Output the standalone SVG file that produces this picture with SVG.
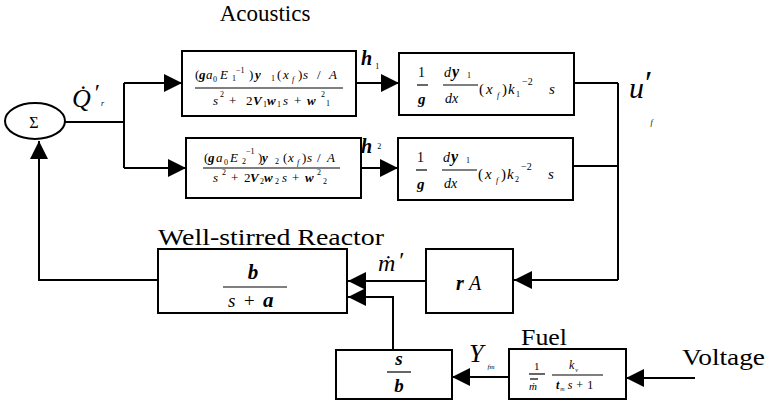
<svg xmlns="http://www.w3.org/2000/svg" width="765" height="406" viewBox="0 0 765 406" font-family="'Liberation Serif', 'DejaVu Serif', serif">
  <style>
    .ln { stroke: #000; stroke-width: 2; fill: none; }
    .box { fill: #fff; stroke: #000; stroke-width: 2; }
    .fl { stroke: #000; stroke-width: 1.2; }
    text { font-family: 'Liberation Serif', 'DejaVu Serif', serif; fill: #000; }
    .i { font-style: italic; }
    .bi { font-style: italic; font-weight: bold; }
    .lbl { font-size: 23px; }
    .m { font-size: 13px; }
    .s { font-size: 8px; }
  </style>
  <defs>
    <marker id="arrow" viewBox="0 0 18 18" refX="18" refY="9" markerWidth="18" markerHeight="18" markerUnits="userSpaceOnUse" orient="auto">
      <path d="M0,0 L18,9 L0,18 z" fill="#000"/>
    </marker>
  </defs>

  <rect width="765" height="406" fill="#fff"/>

  <!-- connectors -->
  <g id="connectors">
    <path class="ln" d="M65,122 H124"/>
    <path class="ln" d="M124,83 V168"/>
    <path class="ln" d="M124,83 H182" marker-end="url(#arrow)"/>
    <path class="ln" d="M124,168 H186" marker-end="url(#arrow)"/>
    <path class="ln" d="M356,83 H399" marker-end="url(#arrow)"/>
    <path class="ln" d="M361,168 H398" marker-end="url(#arrow)"/>
    <path class="ln" d="M574,83 H618 M573,166 H618 M618,83 V280"/>
    <path class="ln" d="M618,280 H514" marker-end="url(#arrow)"/>
    <path class="ln" d="M426,281 H348" marker-end="url(#arrow)"/>
    <path class="ln" d="M393,350 V297 H348" marker-end="url(#arrow)"/>
    <path class="ln" d="M158,280 H39 V141" marker-end="url(#arrow)"/>
    <path class="ln" d="M509,377 H452" marker-end="url(#arrow)"/>
    <path class="ln" d="M695,378 H626" marker-end="url(#arrow)"/>
  </g>

  <!-- signal labels -->
  <g id="signal-labels">
    <text class="i" x="72" y="107" font-size="26">Q̇<tspan font-style="normal" font-size="24" dx="4" dy="-7">′</tspan><tspan font-size="8" dx="1" dy="6">r</tspan></text>

    <text class="bi" x="361" y="65" font-size="20">h<tspan font-style="normal" font-weight="normal" font-size="8" dx="3" dy="4">1</tspan></text>
    <text class="bi" x="361" y="153" font-size="20">h<tspan font-style="normal" font-weight="normal" font-size="8" dx="5" dy="-4">2</tspan></text>

    <text class="i" x="629" y="98" font-size="30">u<tspan font-style="normal" font-size="34" dx="1" dy="-4">′</tspan><tspan font-size="8" dx="-2" dy="31">f</tspan></text>

    <text class="i" x="378" y="271" font-size="24">ṁ<tspan font-style="normal" dx="4" dy="-3">′</tspan></text>

    <text class="i" x="469" y="362" font-size="26">Y<tspan font-size="7" dx="4" dy="7">fm</tspan></text>
  </g>

  <!-- summing junction -->
  <g id="sum">
    <ellipse class="box" cx="35" cy="121" rx="30" ry="18"/>
    <text x="34" y="128" font-size="16" text-anchor="middle">Σ</text>
  </g>

  <!-- acoustic mode 1 -->
  <g id="acoustic-mode-1">
    <text class="lbl" x="265" y="21" text-anchor="middle">Acoustics</text>
    <rect class="box" x="182" y="51" width="174" height="65"/>
    <text class="m" x="195" y="79">(</text>
    <text class="m bi" x="199" y="79">g</text>
    <text class="m i" x="206" y="79">a</text>
    <text class="s" x="213" y="82">0</text>
    <text class="m i" x="220" y="79">E</text>
    <text class="s" x="232" y="81">1</text>
    <text class="s" x="236" y="73">−1</text>
    <text class="m" x="249" y="79">)</text>
    <text class="m bi" x="255" y="79">y</text>
    <text class="s" x="271" y="81">1</text>
    <text class="m" x="277" y="79">(</text>
    <text class="m i" x="283" y="79">x</text>
    <text class="i s" x="292" y="82">f</text>
    <text class="m" x="298" y="79">)</text>
    <text class="m i" x="303" y="79">s</text>
    <text class="m" x="317" y="79">/</text>
    <text class="m i" x="329" y="79">A</text>
    <line class="fl" x1="195" y1="88" x2="343" y2="88"/>
    <text class="m i" x="213" y="105">s</text>
    <text class="s" x="220" y="97">2</text>
    <text class="m" x="229" y="105">+</text>
    <text class="m" x="246" y="105">2</text>
    <text class="m bi" x="253" y="105">V</text>
    <text class="s" x="263" y="107">1</text>
    <text class="m bi" x="267" y="105">w</text>
    <text class="s" x="277" y="107">1</text>
    <text class="m i" x="283" y="105">s</text>
    <text class="m" x="294" y="105">+</text>
    <text class="m bi" x="307" y="105">w</text>
    <text class="s" x="321" y="97">2</text>
    <text class="s" x="326" y="106">1</text>
  </g>

  <!-- acoustic mode 2 -->
  <g id="acoustic-mode-2">
    <rect class="box" x="186" y="138" width="175" height="60"/>
    <text class="m" x="204" y="162">(</text>
    <text class="m bi" x="208" y="162">g</text>
    <text class="m i" x="216" y="162">a</text>
    <text class="s" x="224" y="165">0</text>
    <text class="m i" x="230" y="162">E</text>
    <text class="s" x="242" y="164">2</text>
    <text class="s" x="246" y="154">−1</text>
    <text class="m" x="258" y="162">)</text>
    <text class="m bi" x="262" y="162">y</text>
    <text class="s" x="275" y="164">2</text>
    <text class="m" x="283" y="162">(</text>
    <text class="m i" x="288" y="162">x</text>
    <text class="i s" x="297" y="165">f</text>
    <text class="m" x="302" y="162">)</text>
    <text class="m i" x="307" y="162">s</text>
    <text class="m" x="317" y="162">/</text>
    <text class="m i" x="327" y="162">A</text>
    <line class="fl" x1="203" y1="168" x2="340" y2="168"/>
    <text class="m i" x="213" y="182">s</text>
    <text class="s" x="222" y="175">2</text>
    <text class="m" x="231" y="182">+</text>
    <text class="m" x="244" y="182">2</text>
    <text class="m bi" x="250" y="182">V</text>
    <text class="s" x="260" y="184">2</text>
    <text class="m bi" x="264" y="182">w</text>
    <text class="s" x="275" y="184">2</text>
    <text class="m i" x="282" y="182">s</text>
    <text class="m" x="292" y="182">+</text>
    <text class="m bi" x="305" y="182">w</text>
    <text class="s" x="317" y="175">2</text>
    <text class="s" x="323" y="184">2</text>
  </g>

  <!-- velocity gain, mode 1 -->
  <g id="velocity-mode-1">
    <rect class="box" x="399" y="53" width="175" height="62"/>
    <text x="418" y="77" font-size="14">1</text>
    <line class="fl" x1="417" y1="85" x2="428" y2="85"/>
    <text class="bi" x="418" y="104" font-size="15">g</text>
    <text class="i" x="444" y="77" font-size="14">d</text>
    <text class="bi" x="452" y="77" font-size="16">y</text>
    <text class="s" x="467" y="78">1</text>
    <line class="fl" x1="443" y1="85" x2="478" y2="85"/>
    <text class="i" x="445" y="103" font-size="14">dx</text>
    <text x="479" y="94" font-size="15">(</text>
    <text class="i" x="486" y="94" font-size="15">x</text>
    <text class="i s" x="497" y="98">f</text>
    <text x="502" y="94" font-size="15">)</text>
    <text class="i" x="508" y="94" font-size="15">k</text>
    <text class="s" x="516" y="97">1</text>
    <text x="522" y="85" font-size="10">−2</text>
    <text class="i" x="549" y="94" font-size="15">s</text>
  </g>

  <!-- velocity gain, mode 2 -->
  <g id="velocity-mode-2">
    <rect class="box" x="398" y="138" width="175" height="62"/>
    <text x="417" y="162" font-size="14">1</text>
    <line class="fl" x1="416" y1="170" x2="427" y2="170"/>
    <text class="bi" x="417" y="189" font-size="15">g</text>
    <text class="i" x="443" y="162" font-size="14">d</text>
    <text class="bi" x="451" y="162" font-size="16">y</text>
    <text class="s" x="466" y="163">1</text>
    <line class="fl" x1="442" y1="170" x2="477" y2="170"/>
    <text class="i" x="444" y="188" font-size="14">dx</text>
    <text x="478" y="179" font-size="15">(</text>
    <text class="i" x="485" y="179" font-size="15">x</text>
    <text class="i s" x="496" y="183">f</text>
    <text x="501" y="179" font-size="15">)</text>
    <text class="i" x="507" y="179" font-size="15">k</text>
    <text class="s" x="515" y="182">2</text>
    <text x="521" y="170" font-size="10">−2</text>
    <text class="i" x="548" y="179" font-size="15">s</text>
  </g>

  <!-- well-stirred reactor -->
  <g id="reactor">
    <text class="lbl" x="158" y="245" textLength="226" lengthAdjust="spacingAndGlyphs">Well-stirred Reactor</text>
    <rect class="box" x="158" y="249" width="189" height="64"/>
    <text class="bi" x="253" y="279" font-size="21" text-anchor="middle">b</text>
    <line class="fl" x1="223" y1="287" x2="287" y2="287"/>
    <text class="i" x="228" y="307" font-size="19">s</text>
    <text x="244" y="307" font-size="19">+</text>
    <text class="bi" x="263" y="307" font-size="21">a</text>
  </g>

  <!-- flame area gain -->
  <g id="area-gain">
    <rect class="box" x="426" y="249" width="87" height="64"/>
    <text class="bi" x="456" y="290" font-size="20">r</text>
    <text class="i" x="469" y="290" font-size="20">A</text>
  </g>

  <!-- s / b block -->
  <g id="s-over-b">
    <rect class="box" x="336" y="350" width="116" height="49"/>
    <text class="bi" x="399" y="365" font-size="19" text-anchor="middle">s</text>
    <line class="fl" x1="387" y1="372" x2="411" y2="372"/>
    <text class="bi" x="399" y="392" font-size="19" text-anchor="middle">b</text>
  </g>

  <!-- fuel injector -->
  <g id="fuel">
    <text class="lbl" x="521" y="345" textLength="46" lengthAdjust="spacingAndGlyphs">Fuel</text>
    <rect class="box" x="509" y="349" width="117" height="50"/>
    <text x="534" y="370" font-size="11">1</text>
    <line class="fl" x1="529" y1="374" x2="545" y2="374"/>
    <line class="fl" x1="530" y1="379" x2="538" y2="379"/>
    <text class="i" x="529" y="390" font-size="11">ṁ</text>
    <text class="i" x="569" y="369" font-size="12">k<tspan font-size="6" dx="1" dy="3">v</tspan></text>
    <line class="fl" x1="552" y1="375" x2="603" y2="375"/>
    <text class="bi" x="556" y="389" font-size="12">t<tspan font-style="italic" font-weight="normal" font-size="6" dx="1" dy="2">m</tspan><tspan font-weight="normal" dx="3" dy="-2">s</tspan><tspan font-style="normal" font-weight="normal" dx="4">+</tspan><tspan font-style="normal" font-weight="normal" dx="4">1</tspan></text>
    <text class="lbl" x="682" y="365" textLength="83" lengthAdjust="spacingAndGlyphs">Voltage</text>
  </g>
</svg>
